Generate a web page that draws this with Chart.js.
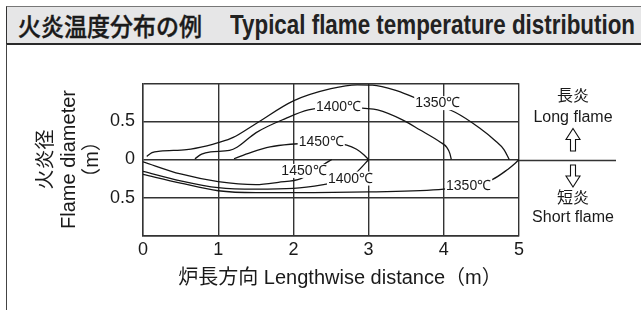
<!DOCTYPE html>
<html>
<head>
<meta charset="utf-8">
<script src="https://cdn.jsdelivr.net/npm/chart.js@4.4.1/dist/chart.umd.min.js"></script>
<style>
  html, body { margin: 0; padding: 0; background: #fff; }
  #wrap { position: relative; width: 641px; height: 310px; overflow: hidden; }
  #chart { position: absolute; left: 0; top: 0; }
  .head { position: absolute; left: 6px; top: 6px; width: 640px; height: 36px; background: #e6e6e7;
          border-top: 1px solid #777; border-bottom: 2px solid #2a2a2a; border-left: 1px solid #333; }
  .frame { position: absolute; left: 6px; top: 44px; width: 1px; height: 266px; background: #444; }
  .ttl { position: absolute; top: 10px; line-height: 30px; white-space: nowrap; color: #222; transform-origin: 0 50%; }
  #jp { left: 18px; top: 7px; font: 500 25px "Noto Sans CJK JP", sans-serif; color: #1a1a1a; -webkit-text-stroke: 0.4px #1a1a1a; }
  #en { left: 230px; font: bold 27px "Liberation Sans Narrow", "Liberation Sans", Arial, sans-serif; }
</style>
</head>
<body>
<div id="wrap">
  <canvas id="chart" width="641" height="310"></canvas>
  <div class="head"></div>
  <div class="frame"></div>
  <span class="ttl" id="jp">火炎温度分布の例</span>
  <span class="ttl" id="en">Typical flame temperature distribution</span>
</div>
<script>
'use strict'

//ejes
const xTicks = [ 0, 1, 2, 3, 4, 5 ];
const yTickValues = [ -1, -0.5, 0, 0.5, 1 ];
const yTickLabels = [ '', '0.5', '0', '0.5', '' ];

//curvas de temperatura (parte superior = llama larga)
const up1350X = [ 0.05, 0.12, 0.23, 0.58, 0.85, 1.0, 1.2, 1.5, 2.0, 2.5, 2.85, 3.05, 3.35, 3.62, 4.15, 4.48, 4.68, 4.8, 4.87 ];
const up1350Y = [ 0.04, 0.09, 0.11, 0.13, 0.18, 0.22, 0.29, 0.47, 0.77, 0.93, 0.98, 0.975, 0.91, 0.81, 0.62, 0.41, 0.25, 0.13, 0.0 ];

const up1400X = [ 0.69, 0.78, 0.9, 1.15, 1.25, 1.5, 1.9, 2.2, 2.6, 2.95, 3.12, 3.45, 3.68, 3.95, 4.04, 4.08, 4.1 ];
const up1400Y = [ 0.01, 0.07, 0.1, 0.12, 0.16, 0.35, 0.54, 0.65, 0.69, 0.67, 0.65, 0.52, 0.39, 0.23, 0.16, 0.08, 0.0 ];

const up1450X = [ 1.21, 1.43, 1.69, 1.96, 2.37, 2.71, 2.84, 2.94, 3.0 ];
const up1450Y = [ 0.01, 0.09, 0.165, 0.2, 0.22, 0.19, 0.135, 0.06, 0.0 ];

//parte inferior = llama corta
const low1450X = [ 0, 0.5, 1.0, 1.5, 1.8, 2.1, 2.25, 2.4, 2.51 ];
const low1450Y = [ -0.03, -0.19, -0.29, -0.33, -0.3, -0.25, -0.16, -0.065, 0.0 ];

const low1400X = [ 0, 0.5, 1.0, 1.5, 2.0, 2.4, 2.6, 2.76, 2.88, 3.0 ];
const low1400Y = [ -0.155, -0.28, -0.37, -0.39, -0.38, -0.33, -0.29, -0.24, -0.13, 0.0 ];

const low1350X = [ 0, 0.5, 1.0, 1.5, 2.0, 3.0, 4.0, 4.33, 4.65, 4.85, 4.95, 5.0 ];
const low1350Y = [ -0.195, -0.31, -0.41, -0.435, -0.435, -0.425, -0.39, -0.34, -0.26, -0.13, -0.05, 0.0 ];

//etiquetas de temperatura
const tempText = [ '1350℃', '1400℃', '1450℃', '1450℃', '1400℃', '1350℃' ];
const tempX = [ 3.92, 2.60, 2.37, 2.14, 2.76, 4.33 ];
const tempY = [ 0.74, 0.69, 0.23, -0.15, -0.25, -0.345 ];

function pares( xs, ys )
{
  return xs.map( ( x, i ) => ( { x: x, y: ys[ i ] } ) );
}

function curva( xs, ys )
{
  return {
    data: pares( xs, ys ),
    showLine: true,
    borderColor: '#151515',
    borderWidth: 1.3,
    pointRadius: 0,
    cubicInterpolationMode: 'monotone',
    fill: false,
  };
}

function flecha( ctx, cx, yTip, yEnd )
{
  //flecha hueca, punta en yTip
  const dir = yEnd > yTip ? 1 : -1;
  const yBase = yTip + dir * 11;
  ctx.beginPath();
  ctx.moveTo( cx, yTip );
  ctx.lineTo( cx + 7, yBase );
  ctx.lineTo( cx + 2.5, yBase );
  ctx.lineTo( cx + 2.5, yEnd );
  ctx.lineTo( cx - 2.5, yEnd );
  ctx.lineTo( cx - 2.5, yBase );
  ctx.lineTo( cx - 7, yBase );
  ctx.closePath();
  ctx.fillStyle = '#fff';
  ctx.fill();
  ctx.strokeStyle = '#111';
  ctx.lineWidth = 1.1;
  ctx.stroke();
}

const extras =
{
  id: 'extras',
  afterDatasetsDraw( chart )
  {
    const ctx = chart.ctx;
    const xs = chart.scales.x;
    const ys = chart.scales.y;
    const area = chart.chartArea;
    const y0 = Math.round( ys.getPixelForValue( 0 ) ) + 0.5;

    ctx.save();

    //linea del cero fuera del grafico
    ctx.beginPath();
    ctx.moveTo( area.right, y0 );
    ctx.lineTo( 616, y0 );
    ctx.strokeStyle = '#333';
    ctx.lineWidth = 1.4;
    ctx.stroke();

    //etiquetas de temperatura
    ctx.font = '14px "Liberation Sans", Arial, sans-serif';
    ctx.textAlign = 'center';
    ctx.textBaseline = 'middle';
    tempText.forEach( ( t, i ) =>
    {
      const px = xs.getPixelForValue( tempX[ i ] );
      const py = ys.getPixelForValue( tempY[ i ] );
      const w = ctx.measureText( t ).width;
      ctx.fillStyle = '#fff';
      ctx.fillRect( px - w / 2 - 1, py - 7, w + 2, 14 );
      ctx.fillStyle = '#1a1a1a';
      ctx.fillText( t, px, py + 0.5 );
    });

    //anotaciones de la derecha
    ctx.fillStyle = '#1a1a1a';
    ctx.font = '16px "Liberation Sans", "Noto Sans CJK JP", sans-serif';
    ctx.fillText( '長炎', 573, 97 );
    ctx.fillText( 'Long flame', 573, 117.5 );
    ctx.fillText( '短炎', 573, 199 );
    ctx.fillText( 'Short flame', 573, 217.5 );
    flecha( ctx, 573, 128.5, 151 );
    flecha( ctx, 573, 187, 165 );

    //titulo del eje x
    ctx.fillStyle = '#1a1a1a';
    ctx.font = '20px "Liberation Sans", "Noto Sans CJK JP", sans-serif';
    ctx.fillText( '炉長方向 Lengthwise distance（m）', 340, 278 );

    ctx.restore();
  }
};

const tickFont = { family: '"Liberation Sans", Arial, sans-serif', size: 18, lineHeight: 1.2 };

new Chart( document.getElementById( 'chart' ),
{
  type: 'scatter',
  data:
  {
    datasets:
    [
      curva( up1350X, up1350Y ),
      curva( up1400X, up1400Y ),
      curva( up1450X, up1450Y ),
      curva( low1450X, low1450Y ),
      curva( low1400X, low1400Y ),
      curva( low1350X, low1350Y ),
    ]
  },
  options:
  {
    responsive: false,
    animation: false,
    events: [],
    layout: { padding: { left: 0, right: 122, top: 83.3, bottom: 0 } },
    plugins: { legend: { display: false }, tooltip: { enabled: false } },
    scales:
    {
      x:
      {
        type: 'linear',
        min: 0,
        max: 5,
        afterBuildTicks: s => { s.ticks = xTicks.map( v => ( { value: v } ) ); },
        afterFit: s => { s.height = 74.3; },
        grid: { color: '#333', lineWidth: 1.4, drawTicks: false },
        border: { color: '#333', width: 1.4 },
        ticks: { color: '#1a1a1a', font: tickFont, padding: 4, maxRotation: 0 },
      },
      y:
      {
        type: 'linear',
        min: -1,
        max: 1,
        afterBuildTicks: s => { s.ticks = yTickValues.map( v => ( { value: v } ) ); },
        afterFit: s => { s.width = 143; },
        grid: { color: '#333', lineWidth: 1.4, drawTicks: false },
        border: { color: '#333', width: 1.4 },
        ticks:
        {
          color: '#1a1a1a',
          font: tickFont,
          padding: 8,
          callback: ( v, i ) => yTickLabels[ i ],
        },
        title:
        {
          display: true,
          text: [ '火炎径', 'Flame diameter', '（m）' ],
          color: '#1a1a1a',
          font: { family: '"Liberation Sans", "Noto Sans CJK JP", sans-serif', size: 20, lineHeight: 1.15 },
          padding: { top: 35, bottom: 0 },
        },
      }
    }
  },
  plugins: [ extras ]
});

//ajustamos el ancho de los titulos de cabecera
function ajustar( id, ancho )
{
  const el = document.getElementById( id );
  const w = el.getBoundingClientRect().width;
  el.style.transform = 'scaleX(' + ( ancho / w ) + ')';
}
ajustar( 'jp', 184 );
ajustar( 'en', 405 );
</script>
</body>
</html>
